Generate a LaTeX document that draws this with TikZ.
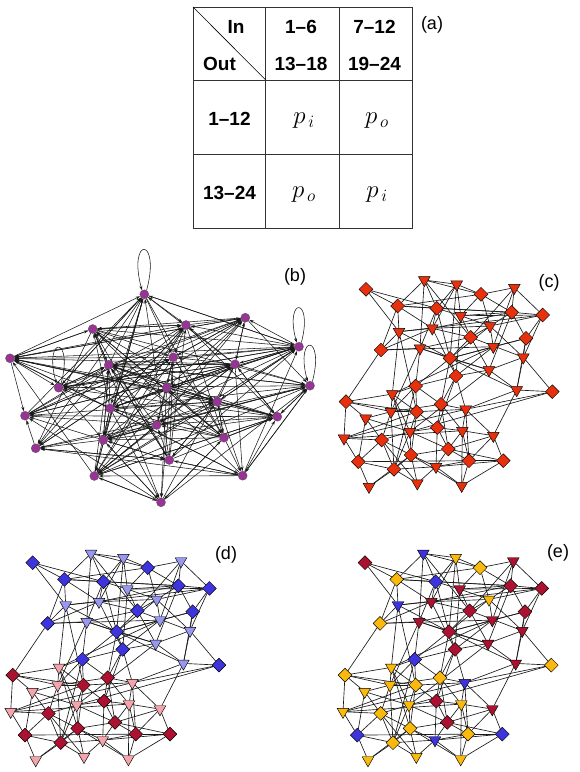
\documentclass[tikz,border=0pt]{standalone}
\usepackage{fontspec}
\setmainfont{Liberation Sans}
\usepackage{tikz}
\usetikzlibrary{arrows.meta,shapes.geometric,backgrounds}

\definecolor{vpurple}{RGB}{153,51,150}
\definecolor{netred}{RGB}{232,48,12}
\definecolor{blueD}{RGB}{62,52,222}
\definecolor{blueT}{RGB}{152,152,240}
\definecolor{redD}{RGB}{172,18,48}
\definecolor{redT}{RGB}{246,164,172}
\definecolor{er}{RGB}{172,18,48}
\definecolor{eo}{RGB}{250,185,12}
\definecolor{eb}{RGB}{62,52,222}

\tikzset{
  netD/.style={diamond,draw=black,line width=0.45pt,inner sep=0pt,minimum width=14pt,minimum height=14pt},
  netT/.style={regular polygon,regular polygon sides=3,shape border rotate=180,draw=black,line width=0.45pt,inner sep=0pt,minimum size=13.5pt},
  vtx/.style={circle,draw=black!70,line width=0.3pt,fill=vpurple,inner sep=0pt,minimum size=9pt},
  link/.style={line width=0.65pt,black!90},
  arc/.style={line width=0.55pt,black!90,-{Stealth[length=4.5pt,width=3pt]}},
  grid/.style={line width=0.8pt,black!80},
  cell/.style={font=\fontsize{19}{22}\selectfont\bfseries},
  prob/.style={font=\fontsize{23}{26}\selectfont},
  lbl/.style={font=\fontsize{18}{20}\selectfont},
}

% node positions of the 48-node net: name/x/y/shape/colour in (e)
\newcommand\netnodes{1/366/289.3/D/r, 2/424.3/280/T/b, 3/456.7/284.3/T/o, 4/481/294.3/D/o,
  5/514.3/287.7/T/r, 6/397.7/306/D/o, 7/436.7/308.3/D/b, 8/460.7/315.7/T/r,
  9/511.7/312.3/D/r, 10/542.7/315/D/r, 11/399/331.7/T/b, 12/432.3/328.3/T/r,
  13/490/326/T/o, 14/470.7/337.3/D/r, 15/526/338.3/D/r, 16/381/350/D/o,
  17/420/348.3/T/r, 18/493.3/346.7/T/r, 19/450/358.3/D/r, 20/523.3/357.3/T/r,
  21/489/370/T/r, 22/456/376/D/r, 23/415.7/386/D/b, 24/516.7/390/T/r,
  25/552.3/391.7/D/o, 26/392.3/394/T/o, 27/346/401.7/D/o, 28/441/404.3/D/o,
  29/391/411.7/T/o, 30/416.7/411.7/D/o, 31/465.7/409.3/T/b, 32/365.7/418.3/T/o,
  33/437.3/427.7/D/r, 34/410/431.7/T/o, 35/462.3/430.7/T/o, 36/493.3/435.7/T/r,
  37/344/438.3/T/o, 38/381.7/440/D/o, 39/448.3/449/D/r, 40/358.3/461.7/D/b,
  41/411/455/D/o, 42/469/460.7/D/o, 43/503.3/460.7/D/b, 44/394/469.3/D/o,
  45/436/466.7/T/b, 46/369/486.7/T/o, 47/417.3/483.3/T/o, 48/461.7/485.7/T/o}
\newcommand\netlinks{1/6,1/11,1/7, 2/6,2/3,2/4,2/7,2/17,2/14, 3/4,3/7,3/8,3/12,3/19,
  4/5,4/9,4/13,4/8,4/6, 5/9,5/10,5/14,5/18, 6/7,6/11,6/12,6/16,6/9,
  7/8,7/12,7/9,7/19,7/17, 8/13,8/9,8/10,8/14,8/22, 9/10,9/13,9/15,9/21,9/12,
  10/15,10/20,10/11,10/13, 11/12,11/16,11/19,11/26,11/30, 12/14,12/16,12/13,12/22,
  13/14,13/18,13/20,13/23, 14/19,14/21,14/17,14/20, 15/20,15/18,15/19,15/24,
  16/17,16/27,16/18, 17/19,17/23,17/29,17/21, 18/19,18/22,18/26,
  19/21,19/22,19/28,19/24, 20/24,20/25,20/21, 21/22,21/24,21/34,
  22/23,22/28,22/31,22/33, 23/26,23/28,23/29,23/30,23/44, 24/25,24/36,24/31,
  25/31,25/34, 26/27,26/29,26/30,26/34,26/41, 27/37,27/29,27/30,27/32,
  28/29,28/31,28/33,28/35,28/39, 29/30,29/32,29/38,29/44,
  30/31,30/33,30/34,30/41,30/37, 31/35,31/36,31/42,31/37, 32/38,32/34,32/40,
  33/35,33/39,33/34,33/45, 34/38,34/41,34/44,34/39, 35/36,35/39,35/42,35/48,
  36/42,36/43,36/39, 37/38,37/40,37/35, 38/40,38/41,38/44,38/47,
  39/41,39/42,39/45,39/43, 40/44,40/46,40/42, 41/44,41/45,41/47,41/48,
  42/43,42/45,42/48, 43/48,43/45, 44/46,44/47,44/45, 45/47,45/48, 46/41}
% vertices of the directed graph
\newcommand\vtxlist{1/144.3/294.3, 2/92.7/329, 3/186/325, 4/245.3/317.7, 5/299/346.7,
  6/10/358.3, 7/173.3/357.3, 8/108.7/365, 9/235/364.3, 10/58.7/387.7, 11/166.7/387.7,
  12/310/385.7, 13/217.3/401.7, 14/25/415.7, 15/110/408.3, 16/156.7/425, 17/277.3/416.7,
  18/35.7/448.3, 19/103.3/440, 20/224/437.7, 21/169.3/460, 22/94.3/476, 23/242.7/475.7,
  24/161/502.3}

\begin{document}
\begin{tikzpicture}[x=1pt,y=-1pt]
  \useasboundingbox (0,0) rectangle (580,772);

  % (a) block table
  \draw[grid] (193,7) rectangle (412,228);
  \draw[grid] (265.7,7) -- (265.7,228) (339,7) -- (339,228)
              (193,80) -- (412,80) (193,154) -- (412,154);
  \draw[line width=0.6pt] (193,7) -- (265.7,80);
  \node[cell] (tin) at (236,27) {In};
  \node[cell] (tout) at (219.5,63.5) {Out};
  \node[cell] (ca) at (301,27) {1--6};
  \node[cell] (cb) at (301,63.5) {13--18};
  \node[cell] (cc) at (374.5,27) {7--12};
  \node[cell] (cd) at (374.5,63.5) {19--24};
  \node[cell] (ra) at (229.5,119) {1--12};
  \node[cell] (rb) at (229.5,193) {13--24};
  \node[prob] (paa) at (304,121) {$p_{\,i}$};
  \node[prob] (pab) at (377,121) {$p_{\,o}$};
  \node[prob] (pba) at (304,195) {$p_{\,o}$};
  \node[prob] (pbb) at (377,195) {$p_{\,i}$};
  \node[lbl] (la) at (432,25) {(a)};

  % (b) directed graph
  \foreach \n/\x/\y in \vtxlist { \node[vtx] (b\n) at (\x,\y) {}; }
  \begin{scope}[on background layer]
    \pgfmathsetseed{4711}
    \foreach \i in {1,...,24}{
      \foreach \j in {1,...,24}{
        \ifnum\i=\j\relax\else
          \pgfmathtruncatemacro\hit{rnd<0.4}
          \ifnum\hit=1 \draw[arc] (b\i) -- (b\j); \fi
        \fi
      }
    }
    \draw[arc] (b1.60) .. controls +(-75:56) and +(-105:56) .. (b1.120);
    \draw[arc] (b5.60) .. controls +(-75:48) and +(-105:48) .. (b5.120);
    \draw[arc] (b10.60) .. controls +(-75:50) and +(-105:50) .. (b10.120);
    \draw[arc] (b12.60) .. controls +(-75:50) and +(-105:50) .. (b12.120);
  \end{scope}
  \node[lbl] (lb) at (295,277) {(b)};

  % (c) one colour
  \foreach \n/\x/\y/\s/\e in \netnodes { \node[net\s,fill=netred] (c\n) at (\x,\y) {}; }
  \begin{scope}[on background layer]
    \foreach \a/\b in \netlinks { \draw[link] (c\a) -- (c\b); }
  \end{scope}
  \node[lbl] (lc) at (549,283) {(c)};

  % (d) two groups
  \begin{scope}[shift={(-333.3,273.4)}]
    \foreach \n/\x/\y/\s/\e in \netnodes {
      \ifnum\n<26\relax\def\grp{blue}\else\def\grp{red}\fi
      \node[net\s,fill=\grp\s] (d\n) at (\x,\y) {};
    }
    \begin{scope}[on background layer]
      \foreach \a/\b in \netlinks { \draw[link] (d\a) -- (d\b); }
    \end{scope}
  \end{scope}
  \node[lbl] (ld) at (226,555) {(d)};

  % (e) three groups
  \begin{scope}[shift={(-1,273.4)}]
    \foreach \n/\x/\y/\s/\e in \netnodes { \node[net\s,fill=e\e] (e\n) at (\x,\y) {}; }
    \begin{scope}[on background layer]
      \foreach \a/\b in \netlinks { \draw[link] (e\a) -- (e\b); }
    \end{scope}
  \end{scope}
  \node[lbl] (le) at (558,553) {(e)};
\end{tikzpicture}
\end{document}
